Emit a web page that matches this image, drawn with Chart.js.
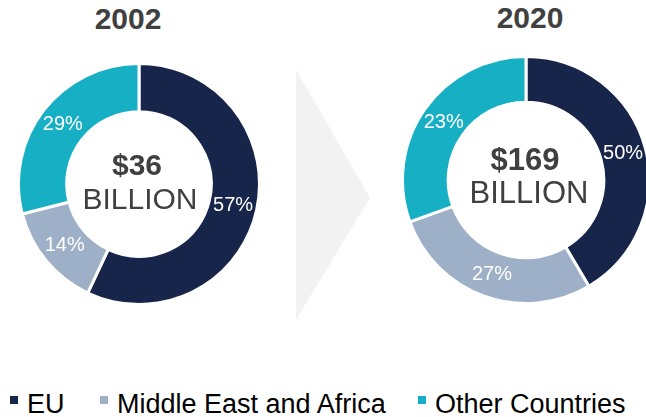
<!DOCTYPE html>
<html>
<head>
<meta charset="utf-8">
<script src="https://cdn.jsdelivr.net/npm/chart.js@4.4.0/dist/chart.umd.min.js"></script>
<style>
  html, body { margin: 0; padding: 0; background: #fff; }
  body { width: 646px; height: 417px; position: relative; overflow: hidden; font-family: "Liberation Sans", Arial, sans-serif; }
  .abs { position: absolute; }
  .title { font-weight: bold; font-size: 30px; color: #404040; text-align: center; width: 160px; height: 36px; line-height: 36px; }
  .center { color: #404040; text-align: center; width: 160px; height: 36px; line-height: 36px; }
  .arrow { left: 296px; top: 70px; width: 74px; height: 250px; background: #f2f2f2; clip-path: polygon(0 0, 100% 51%, 0 100%); }
  .leg { font-size: 27px; color: #000; height: 30px; line-height: 30px; top: 389px; white-space: nowrap; }
  .mark { width: 8px; height: 8px; top: 396px; }
</style>
</head>
<body>
<div class="abs arrow"></div>

<div class="abs title" style="left:48px; top:1px;">2002</div>
<div class="abs title" style="left:450px; top:0px;">2020</div>

<canvas id="chart2002" class="abs" width="244" height="244" style="left:17px; top:62px;"></canvas>
<canvas id="chart2020" class="abs" width="250" height="250" style="left:401px; top:55px;"></canvas>

<div class="abs center" style="left:57px; top:147px; font-size:30px; font-weight:bold;">$36</div>
<div class="abs center" style="left:60px; top:181px; font-size:30px;">BILLION</div>
<div class="abs center" style="left:445px; top:142px; font-size:31px; font-weight:bold;">$169</div>
<div class="abs center" style="left:449px; top:175px; font-size:31px;">BILLION</div>

<div id="legend"></div>

<script>
const categories = ['EU', 'Middle East and Africa', 'Other Countries'];
const colors = ['#17254a', '#9eb0c8', '#17afc3'];

// slice sizes as drawn in the picture
const share2002 = [57, 14, 29];
const share2020 = [41.5, 28, 30.5];

// percentages printed on the slices
const labels2002 = ['57%', '14%', '29%'];
const labels2020 = ['50%', '27%', '23%'];

// legend layout (x of marker, x of text)
const legendMarkX = [10, 100, 418];
const legendTextX = [27, 117, 435];

const sliceLabels = {
    id: 'sliceLabels',
    afterDatasetsDraw(chart, args, opts) {
        const ctx = chart.ctx;
        const meta = chart.getDatasetMeta(0);
        ctx.save();
        ctx.fillStyle = '#ffffff';
        ctx.font = '20px "Liberation Sans", Arial, sans-serif';
        ctx.textAlign = 'center';
        ctx.textBaseline = 'middle';
        meta.data.forEach(function(arc, i) {
            const p = arc.tooltipPosition();
            ctx.fillText(opts.texts[i], p.x, p.y);
        });
        ctx.restore();
    }
};

function makeDoughnut(id, values, texts, cutout) {
    const ctx = document.getElementById(id).getContext('2d');
    new Chart(ctx, {
        type: 'doughnut',
        data: {
            labels: categories,
            datasets: [{
                data: values,
                backgroundColor: colors,
                borderColor: '#ffffff',
                borderWidth: 3,
                hoverOffset: 0
            }]
        },
        options: {
            responsive: false,
            animation: false,
            cutout: cutout,
            layout: { padding: 0 },
            plugins: {
                legend: { display: false },
                tooltip: { enabled: false },
                sliceLabels: { texts: texts }
            }
        },
        plugins: [sliceLabels]
    });
}

makeDoughnut('chart2002', share2002, labels2002, '60%');
makeDoughnut('chart2020', share2020, labels2020, '63%');

// legend
const legend = document.getElementById('legend');
categories.forEach(function(name, i) {
    const m = document.createElement('div');
    m.className = 'abs mark';
    m.style.left = legendMarkX[i] + 'px';
    m.style.background = colors[i];
    legend.appendChild(m);
    const t = document.createElement('div');
    t.className = 'abs leg';
    t.style.left = legendTextX[i] + 'px';
    t.textContent = name;
    legend.appendChild(t);
});
</script>
</body>
</html>
